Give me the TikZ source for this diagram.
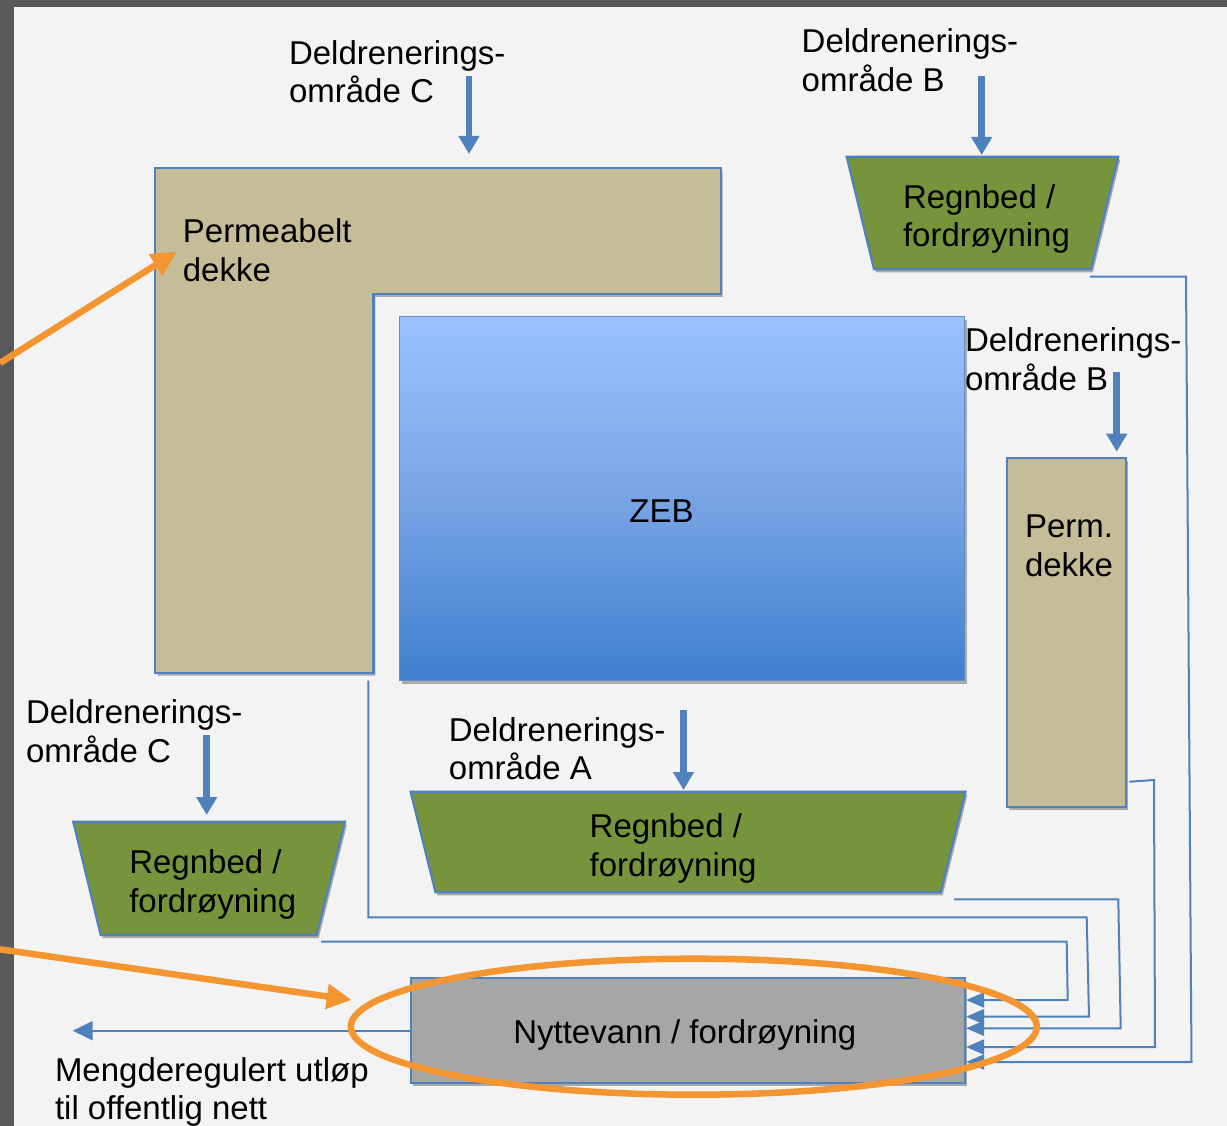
\documentclass[tikz,border=0pt]{standalone}
\usepackage{fontspec}
\setmainfont{Liberation Sans}
\usetikzlibrary{arrows.meta,shadows}
\definecolor{cBg}{HTML}{F3F3F3}
\definecolor{cFrame}{HTML}{58595B}
\definecolor{cLine}{HTML}{4F81BD}
\definecolor{cTan}{HTML}{C4BD97}
\definecolor{cOlive}{HTML}{77933C}
\definecolor{cGray}{HTML}{A6A6A6}
\definecolor{cOrange}{HTML}{F39530}
\definecolor{cZebTop}{HTML}{9BC2FF}
\definecolor{cZebMid}{HTML}{78A4E6}
\definecolor{cZebBot}{HTML}{3F7FCC}
\newcommand{\twolines}[2]{\begin{tabular}[t]{@{}l@{}}#1\\#2\end{tabular}}
\tikzset{
  lab/.style={font=\fontsize{33}{38.7}\selectfont, inner sep=0pt, outer sep=0pt, anchor=base west, text=black},
  shp/.style={draw=cLine, line width=2.2pt, drop shadow={shadow xshift=2pt, shadow yshift=-3pt, opacity=0.3, fill=black}},
  conn/.style={draw=cLine, line width=2pt},
  inarrow/.style={conn, -{Triangle[width=15pt,length=18pt]}},
  feed/.style={draw=cLine, line width=6.5pt, -{Triangle[width=20pt,length=18pt]}},
  hl/.style={draw=cOrange, line width=6.5pt},
  hlarrow/.style={hl, -{Triangle[width=24pt,length=25pt]}},
}
\begin{document}
\begin{tikzpicture}[x=1pt,y=-1pt]
\useasboundingbox (0,0) rectangle (1227,1126);
\fill[cBg] (0,0) rectangle (1227,1126);
\fill[cFrame] (0,0) rectangle (1227,7);
\fill[cFrame] (0,0) rectangle (14,1126);

% connector start points
\coordinate (aS) at (321,941.7);
\coordinate (bS) at (368.3,680.7);
\coordinate (cS) at (954,899.3);
\coordinate (dS) at (1129.3,781.7);
\coordinate (eS) at (1090,276.7);

% Nyttevann box (drawn first for connectors)
\node[shp, fill=cGray, rectangle, minimum width=554pt, minimum height=104.4pt, inner sep=0pt] (nyt) at (688,1030.5) {};

% connectors into Nyttevann
\draw[inarrow] (aS) -- (1066.7,941.7) -- (1067.7,1000) -- (nyt.east |- 0,1000);
\draw[inarrow] (bS) -- (368.3,917.3) -- (1086.7,917.3) -- (1089,1016.7) -- (nyt.east |- 0,1016.7);
\draw[inarrow] (cS) -- (1118.3,899.3) -- (1120.7,1028.3) -- (nyt.east |- 0,1028.3);
\draw[inarrow] (dS) -- (1154,780) -- (1155,1047) -- (nyt.east |- 0,1047);
\draw[inarrow] (eS) -- (1186,276.7) -- (1191.5,1062) -- (nyt.east |- 0,1062);

% outflow
\coordinate (outE) at (72.7,1030.7);
\draw[conn, -{Triangle[width=19pt,length=20pt]}] (nyt.west |- 0,1030.7) -- (outE);

% L-shaped permeable surface
\draw[shp, fill=cTan] (155.3,168.3) -- (720.6,168.3) -- (720.6,294) -- (373.4,294) -- (373.4,672.7) -- (155.3,672.7) -- cycle;
\node[lab] (permL) at (182.9,242.7) {\twolines{Permeabelt}{dekke}};

% ZEB
\node[draw=cLine!90, line width=1.6pt, rectangle, minimum width=565pt, minimum height=364pt, inner sep=0pt,
      top color=cZebTop, bottom color=cZebBot, middle color=cZebMid,
      drop shadow={shadow xshift=2pt, shadow yshift=-3pt, opacity=0.3, fill=black}] (zeb) at (682.1,498.6) {};
\node[lab, anchor=base] (zebt) at (661.5,522.7) {ZEB};

% Perm. dekke
\node[shp, fill=cTan, rectangle, minimum width=118.7pt, minimum height=349pt, inner sep=0pt] (perm) at (1066.7,632.2) {};
\node[lab] (permt) at (1025,537.7) {\twolines{Perm.}{dekke}};

% Regnbed B
\draw[shp, fill=cOlive] (846.7,156.7) -- (1118.3,156.7) -- (1091,269.3) -- (874,269.3) -- cycle;
\node[lab] (rbB) at (903,208.3) {\twolines{Regnbed /}{fordrøyning}};

% Regnbed C
\draw[shp, fill=cOlive] (73.3,821.7) -- (345,821.7) -- (316.7,935) -- (100.7,935) -- cycle;
\node[lab] (rbC) at (129.3,873.7) {\twolines{Regnbed /}{fordrøyning}};

% Regnbed A
\draw[shp, fill=cOlive] (410.6,791.7) -- (965.5,791.7) -- (940.7,892.3) -- (435.5,892.3) -- cycle;
\node[lab] (rbA) at (589.7,837.7) {\twolines{Regnbed /}{fordrøyning}};

% Nyttevann text
\node[lab] (nytt) at (513.3,1043.7) {Nyttevann / fordrøyning};

% labels
\node[lab] (lC1) at (289,64.3) {\twolines{Deldrenerings-}{område C}};
\node[lab] (lB1) at (801.7,52.7) {\twolines{Deldrenerings-}{område B}};
\node[lab] (lB2) at (965,352) {\twolines{Deldrenerings-}{område B}};
\node[lab] (lC2) at (26,723.7) {\twolines{Deldrenerings-}{område C}};
\node[lab] (lA) at (448.9,741) {\twolines{Deldrenerings-}{område A}};
\node[lab] (outt) at (55,1081) {\twolines{Mengderegulert utløp}{til offentlig nett}};

% feed arrows
\coordinate (f1s) at (469,76);   \coordinate (f1e) at (469,154);
\coordinate (f2s) at (981.7,76); \coordinate (f2e) at (981.7,155);
\coordinate (f3s) at (1116.7,371.7); \coordinate (f3e) at (1116.7,451.7);
\coordinate (f4s) at (206.7,735); \coordinate (f4e) at (206.7,815);
\coordinate (f5s) at (683.5,710); \coordinate (f5e) at (683.5,790);
\foreach \s/\e in {f1s/f1e,f2s/f2e,f3s/f3e,f4s/f4e,f5s/f5e}
  \draw[feed] (\s) -- (\e);

% orange highlights
\draw[hl] (693.8,1026.7) ellipse [x radius=343, y radius=68];
\coordinate (o1s) at (0,363); \coordinate (o1e) at (176.7,251.7);
\coordinate (o2s) at (0,949.3); \coordinate (o2e) at (351.7,1000);
\draw[hlarrow] (o1s) -- (o1e);
\draw[hlarrow] (o2s) -- (o2e);
\end{tikzpicture}
\end{document}
